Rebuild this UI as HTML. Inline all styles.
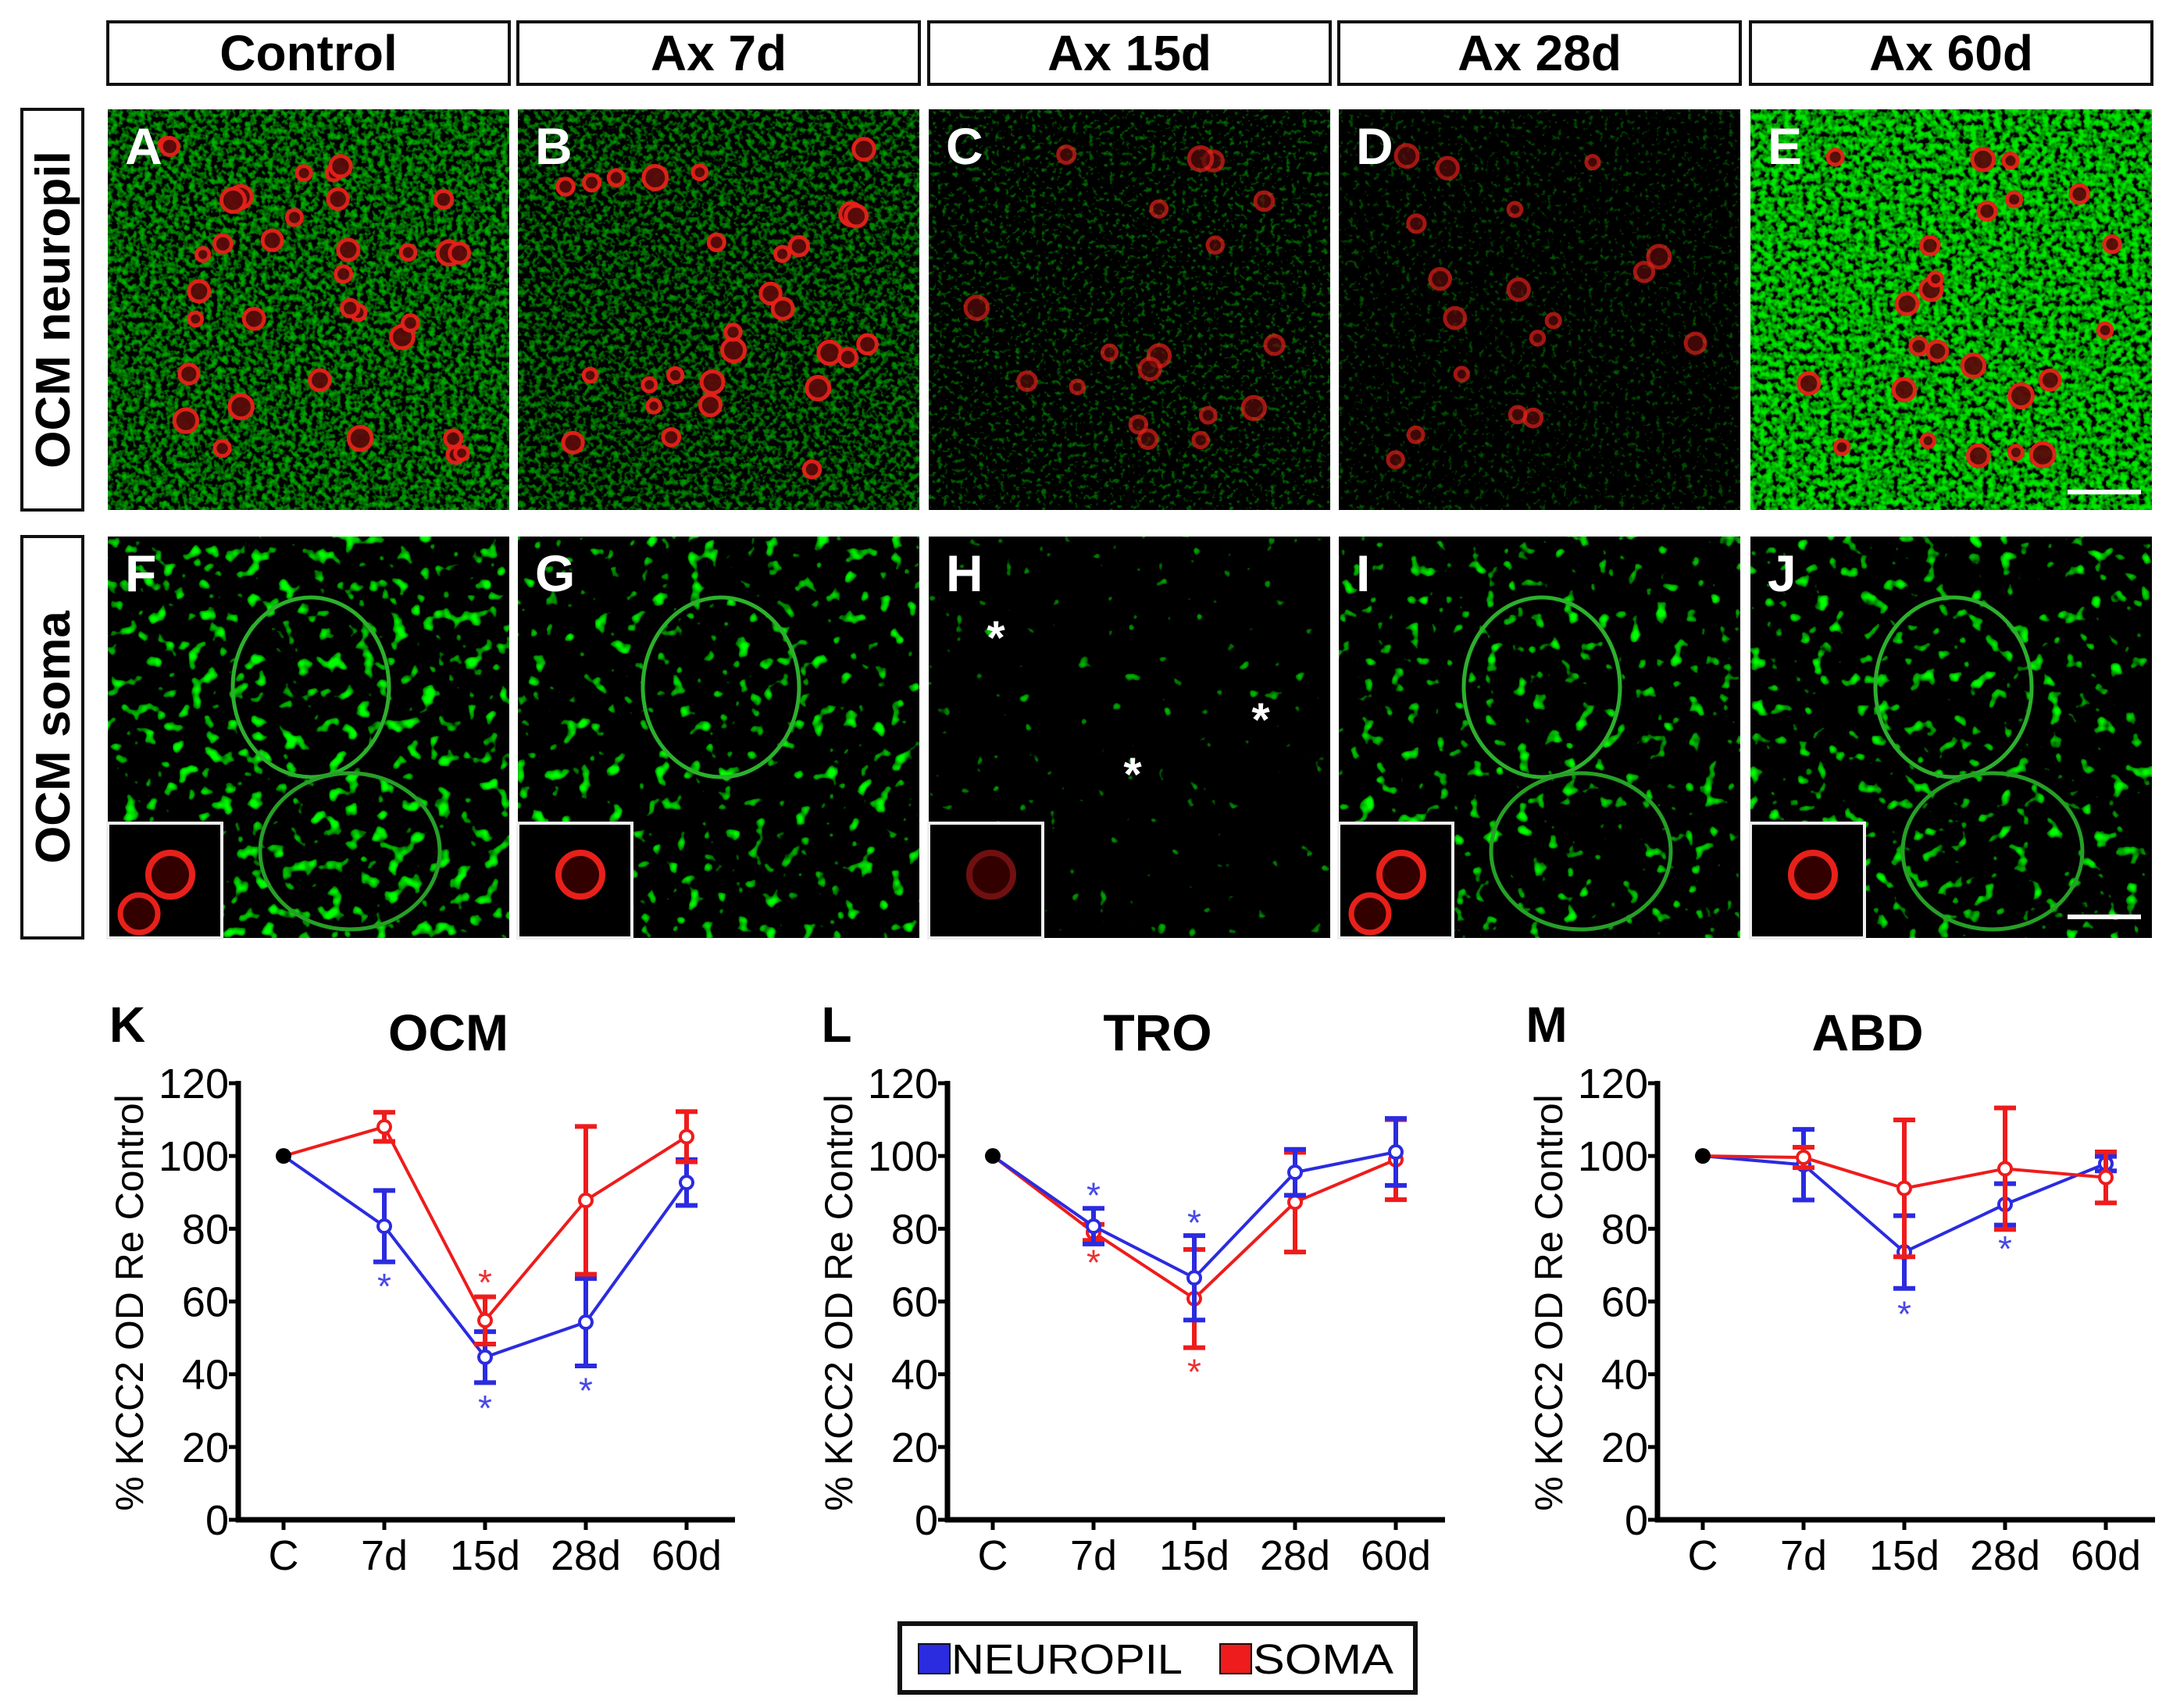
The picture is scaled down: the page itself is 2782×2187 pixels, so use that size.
<!DOCTYPE html>
<html><head><meta charset="utf-8">
<style>
html,body{margin:0;padding:0;background:#fff;}
svg{display:block;}
text{font-family:"Liberation Sans",Arial,sans-serif;}
</style></head>
<body>
<svg id="fig" width="2782" height="2187" viewBox="0 0 2782 2187" xmlns="http://www.w3.org/2000/svg">
<defs>
<filter id="n1" x="0" y="0" width="100%" height="100%"><feTurbulence type="fractalNoise" baseFrequency="0.14" numOctaves="2" seed="3"/><feColorMatrix type="matrix" values="0 0 0 0 0  2.6 0 0 0 -1.1  0 0 0 0 0  0 0 0 0 1"/></filter>
<filter id="n2" x="0" y="0" width="100%" height="100%"><feTurbulence type="fractalNoise" baseFrequency="0.14" numOctaves="2" seed="7"/><feColorMatrix type="matrix" values="0 0 0 0 0  2.6 0 0 0 -1.22  0 0 0 0 0  0 0 0 0 1"/></filter>
<filter id="n3" x="0" y="0" width="100%" height="100%"><feTurbulence type="fractalNoise" baseFrequency="0.15" numOctaves="2" seed="11"/><feColorMatrix type="matrix" values="0 0 0 0 0  2.2 0 0 0 -1.3  0 0 0 0 0  0 0 0 0 1"/></filter>
<filter id="n4" x="0" y="0" width="100%" height="100%"><feTurbulence type="fractalNoise" baseFrequency="0.15" numOctaves="2" seed="19"/><feColorMatrix type="matrix" values="0 0 0 0 0  2.2 0 0 0 -1.35  0 0 0 0 0  0 0 0 0 1"/></filter>
<filter id="n5" x="0" y="0" width="100%" height="100%"><feTurbulence type="fractalNoise" baseFrequency="0.13" numOctaves="2" seed="23"/><feColorMatrix type="matrix" values="0 0 0 0 0  3 0 0 0 -1.05  0 0 0 0 0  0 0 0 0 1"/></filter>
<filter id="s1" x="0" y="0" width="100%" height="100%"><feTurbulence type="fractalNoise" baseFrequency="0.05" numOctaves="2" seed="5"/><feColorMatrix type="matrix" values="0 0 0 0 0  6 0 0 0 -3.6  0 0 0 0 0  0 0 0 0 1"/></filter>
<filter id="s2" x="0" y="0" width="100%" height="100%"><feTurbulence type="fractalNoise" baseFrequency="0.05" numOctaves="2" seed="9"/><feColorMatrix type="matrix" values="0 0 0 0 0  6 0 0 0 -3.8  0 0 0 0 0  0 0 0 0 1"/></filter>
<filter id="s3" x="0" y="0" width="100%" height="100%"><feTurbulence type="fractalNoise" baseFrequency="0.05" numOctaves="2" seed="13"/><feColorMatrix type="matrix" values="0 0 0 0 0  4 0 0 0 -2.95  0 0 0 0 0  0 0 0 0 1"/></filter>
<filter id="s4" x="0" y="0" width="100%" height="100%"><feTurbulence type="fractalNoise" baseFrequency="0.05" numOctaves="2" seed="17"/><feColorMatrix type="matrix" values="0 0 0 0 0  6 0 0 0 -3.85  0 0 0 0 0  0 0 0 0 1"/></filter>
<filter id="s5" x="0" y="0" width="100%" height="100%"><feTurbulence type="fractalNoise" baseFrequency="0.05" numOctaves="2" seed="29"/><feColorMatrix type="matrix" values="0 0 0 0 0  6 0 0 0 -3.75  0 0 0 0 0  0 0 0 0 1"/></filter>
</defs>
<g id="panels"></g>
<g id="charts"></g>
<g>
<rect x="1152" y="2079" width="660" height="88" fill="#fff" stroke="#111" stroke-width="6"/>
<rect x="1176" y="2105" width="40" height="38" fill="#2b2be0" stroke="#111" stroke-width="2"/>
<text x="1218" y="2143" font-size="54" fill="#000" textLength="296" lengthAdjust="spacingAndGlyphs">NEUROPIL</text>
<rect x="1562" y="2105" width="40" height="38" fill="#ee1c1c" stroke="#111" stroke-width="2"/>
<text x="1604" y="2143" font-size="54" fill="#000" textLength="180" lengthAdjust="spacingAndGlyphs">SOMA</text>
</g>
</svg>
<script>
// ---- chart data ----
const categories=['C','7d','15d','28d','60d'];
const yTicks=[0,20,40,60,80,100,120];
const ocmNeuropil=[100,80.7,44.7,54.3,92.7];
const ocmNeuropilErr=[0,9.8,7,12,6.3];
const ocmSoma=[100,108,54.8,87.8,105.3];
const ocmSomaErr=[0,4,6.5,20.3,6.9];
const troNeuropil=[100,80.7,66.5,95.5,101.1];
const troNeuropilErr=[0,4.9,11.6,6.3,9.2];
const troSoma=[100,79,60.8,87.3,99];
const troSomaErr=[0,2.2,13.5,13.7,11];
const abdNeuropil=[100,97.6,73.6,86.7,97.9];
const abdNeuropilErr=[0,9.7,10,5.7,2];
const abdSoma=[100,99.6,91.1,96.5,94.1];
const abdSomaErr=[0,2.8,18.8,16.7,7];
// significance stars: category index, series, value position
const ocmStarCat=[1,2,3,2];const ocmStarSeries=['n','n','n','s'];const ocmStarVal=[65.5,32,36.8,66.5];
const troStarCat=[1,2,1,2];const troStarSeries=['n','n','s','s'];const troStarVal=[90.5,83,72,42];
const abdStarCat=[2,3];const abdStarSeries=['n','n'];const abdStarVal=[57.8,75.8];

const NS='http://www.w3.org/2000/svg';
function mk(tag,attrs,parent){const e=document.createElementNS(NS,tag);for(const k in attrs)e.setAttribute(k,attrs[k]);parent.appendChild(e);return e;}
const BLUE='#2b2be0',RED='#ee1c1c';

// ---- image panels ----
const P=document.getElementById('panels');
const colX=[138,663,1189,1714,2241];const colW=514;
const heads=['Control','Ax 7d','Ax 15d','Ax 28d','Ax 60d'];
let seed=12345;function rnd(){seed=(seed*16807)%2147483647;return seed/2147483647;}
heads.forEach((h,i)=>{
  const g=mk('g',{},P);
  
  
  mk('rect',{x:colX[i],y:28,width:colW,height:80,fill:'#fff',stroke:'#111','stroke-width':4},g);
  const t=mk('text',{x:colX[i]+colW/2,y:90,'font-size':64,'font-weight':'bold','text-anchor':'middle',fill:'#000'},g);t.textContent=h;
});
// row labels
[['OCM neuropil',140,653],['OCM soma',687,1201]].forEach((r,i)=>{
  const g=mk('g',{},P);
  
  
  mk('rect',{x:28,y:r[1],width:78,height:r[2]-r[1],fill:'#fff',stroke:'#111','stroke-width':4},g);
  const cy=(r[1]+r[2])/2;
  const t=mk('text',{x:89,y:cy,'font-size':62,'font-weight':'bold','text-anchor':'middle',fill:'#000',transform:`rotate(-90 89 ${cy})`},g);t.textContent=r[0];
});
const letters1=['A','B','C','D','E'],letters2=['F','G','H','I','J'];
const redCounts=[34,28,18,18,24];
const greenOp=[0.7,0.62,0.55,0.45,0.9];
for(let i=0;i<5;i++){
  // row 1
  let g=mk('g',{},P);
  
  
  mk('rect',{x:colX[i],y:140,width:colW,height:513,fill:'#000'},g);
  mk('rect',{x:colX[i],y:140,width:colW,height:513,filter:`url(#n${i+1})`,opacity:greenOp[i]},g);
  for(let k=0;k<redCounts[i];k++){
    const cx=colX[i]+60+rnd()*(colW-100),cy=180+rnd()*430,r=8+rnd()*7;
    mk('circle',{cx,cy,r,fill:'#5a0a0a',stroke:'#e8201a','stroke-width':5,opacity:i==3||i==2?0.7:0.95},g);
  }
  let t=mk('text',{x:colX[i]+22,y:210,'font-size':66,'font-weight':'bold',fill:'#fff'},g);t.textContent=letters1[i];
  // row 2
  g=mk('g',{},P);
  
  
  mk('rect',{x:colX[i],y:687,width:colW,height:514,fill:'#000'},g);
  mk('rect',{x:colX[i],y:687,width:colW,height:514,filter:`url(#s${i+1})`},g);
  if(i!==2){
    mk('ellipse',{cx:colX[i]+260,cy:880,rx:100,ry:115,fill:'none',stroke:'#2cb02c','stroke-width':5},g);
    if(i!==1) mk('ellipse',{cx:colX[i]+310,cy:1090,rx:115,ry:100,fill:'none',stroke:'#26a026','stroke-width':5},g);
  }
  t=mk('text',{x:colX[i]+22,y:757,'font-size':66,'font-weight':'bold',fill:'#fff'},g);t.textContent=letters2[i];
  const ig=mk('g',{},g);
  
  
  mk('rect',{x:colX[i],y:1054,width:146,height:147,fill:'#000',stroke:'#eee','stroke-width':4},ig);
  mk('circle',{cx:colX[i]+80,cy:1120,r:28,fill:'#300',stroke:i==2?'#701010':'#e8201a','stroke-width':8},ig);
  if(i==0||i==3) mk('circle',{cx:colX[i]+40,cy:1170,r:24,fill:'#300',stroke:'#e8201a','stroke-width':7},ig);
}
// asterisks in H
[[1275,837],[1450,1012],[1614,942]].forEach((p,k)=>{const t=mk('text',{x:p[0],y:p[1],'font-size':60,'font-weight':'bold',fill:'#fff','text-anchor':'middle'},P);t.textContent='*';
  
  });
const sb1=mk('line',{x1:2647,y1:630,x2:2741,y2:630,stroke:'#fff','stroke-width':6},P);


const sb2=mk('line',{x1:2647,y1:1174,x2:2741,y2:1174,stroke:'#fff','stroke-width':6},P);



// ---- charts ----
const C=document.getElementById('charts');
const Y0=1946,YTOP=1387,VMAX=120;
function yS(v){return Y0-v*(Y0-YTOP)/VMAX;}
function drawChart(cfg){
  const ax=cfg.axisX;
  function xS(i){return ax+58+i*129;}
  const g=mk('g',{},C);
  
  
  let t=mk('text',{x:ax-142,y:1334,'font-size':64,'font-weight':'bold','text-anchor':'middle',fill:'#000'},g);t.textContent=cfg.letter;
  
  
  t=mk('text',{x:ax+269,y:1345,'font-size':66,'font-weight':'bold','text-anchor':'middle',fill:'#000'},g);t.textContent=cfg.title;
  
  
  const yt=ax-122,ym=1668;
  t=mk('text',{x:yt,y:ym,'font-size':50,'text-anchor':'middle',fill:'#000',transform:`rotate(-90 ${yt} ${ym})`},g);t.textContent='% KCC2 OD Re Control';
  
  
  const axg=mk('g',{},g);
  
  
  mk('line',{x1:ax,y1:YTOP-3,x2:ax,y2:Y0+3,stroke:'#000','stroke-width':7},axg);
  mk('line',{x1:ax-3,y1:Y0,x2:cfg.axisEnd,y2:Y0,stroke:'#000','stroke-width':7},axg);
  yTicks.forEach(v=>{
    mk('line',{x1:ax-12,y1:yS(v),x2:ax,y2:yS(v),stroke:'#000','stroke-width':5},axg);
    const tt=mk('text',{x:ax-12,y:yS(v)+19,'font-size':54,'text-anchor':'end',fill:'#000'},axg);tt.textContent=v;
    
    
  });
  categories.forEach((c,i)=>{
    mk('line',{x1:xS(i),y1:Y0,x2:xS(i),y2:Y0+13,stroke:'#000','stroke-width':5},axg);
    const tt=mk('text',{x:xS(i),y:2010,'font-size':54,'text-anchor':'middle',fill:'#000'},axg);tt.textContent=c;
    
    
  });
  function series(vals,errs,col,name){
    const sg=mk('g',{},g);
    
    
    mk('polyline',{points:vals.map((v,i)=>xS(i)+','+yS(v)).join(' '),fill:'none',stroke:col,'stroke-width':4},sg);
    vals.forEach((v,i)=>{
      if(i===0)return;
      const e=errs[i],x=xS(i);
      const eb=mk('g',{},sg);
      
      
      mk('line',{x1:x,y1:yS(v+e),x2:x,y2:yS(v-e),stroke:col,'stroke-width':6},eb);
      mk('line',{x1:x-14,y1:yS(v+e),x2:x+14,y2:yS(v+e),stroke:col,'stroke-width':6},eb);
      mk('line',{x1:x-14,y1:yS(v-e),x2:x+14,y2:yS(v-e),stroke:col,'stroke-width':6},eb);
      const pt=mk('circle',{cx:x,cy:yS(v),r:8,fill:'#fff',stroke:col,'stroke-width':4},sg);
      
      
    });
  }
  const order=cfg.redFirst?['s','n']:['n','s'];
  order.forEach(o=>{
    if(o==='n')series(cfg.n,cfg.nErr,BLUE,'neuropil');else series(cfg.s,cfg.sErr,RED,'soma');
  });
  const c0=mk('circle',{cx:xS(0),cy:yS(cfg.n[0]),r:10,fill:'#000'},g);
  
  
  cfg.starCat.forEach((ci,k)=>{
    const st=mk('text',{x:xS(ci),y:yS(cfg.starVal[k])+22,'font-size':46,'text-anchor':'middle',fill:cfg.starSeries[k]==='n'?'#4848e8':'#ee3030'},g);
    st.textContent='*';
    
    
  });
}
drawChart({letter:'K',title:'OCM',axisX:305,axisEnd:941,n:ocmNeuropil,nErr:ocmNeuropilErr,s:ocmSoma,sErr:ocmSomaErr,starCat:ocmStarCat,starSeries:ocmStarSeries,starVal:ocmStarVal,redFirst:false});
drawChart({letter:'L',title:'TRO',axisX:1213,axisEnd:1850,n:troNeuropil,nErr:troNeuropilErr,s:troSoma,sErr:troSomaErr,starCat:troStarCat,starSeries:troStarSeries,starVal:troStarVal,redFirst:true});
drawChart({letter:'M',title:'ABD',axisX:2122,axisEnd:2759,n:abdNeuropil,nErr:abdNeuropilErr,s:abdSoma,sErr:abdSomaErr,starCat:abdStarCat,starSeries:abdStarSeries,starVal:abdStarVal,redFirst:false});
</script>
</body></html>
